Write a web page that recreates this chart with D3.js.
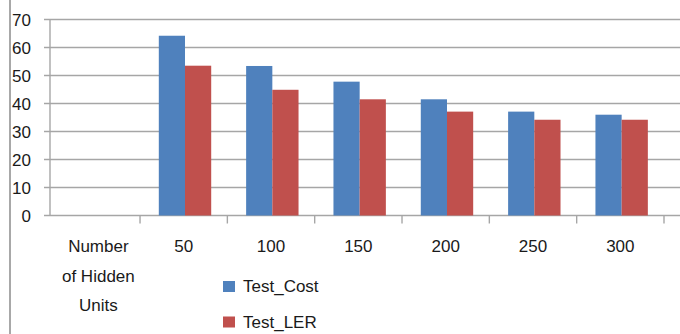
<!DOCTYPE html>
<html><head><meta charset="utf-8">
<script src="https://cdn.jsdelivr.net/npm/d3@7"></script>
<style>
html,body{margin:0;padding:0;background:#fff;}
svg{display:block;}
text{font-family:"Liberation Sans",Arial,sans-serif;fill:#1a1a1a;}
</style></head>
<body>
<svg id="c" width="680" height="334"></svg>
<script>
const categories = ["Number of Hidden Units", "50", "100", "150", "200", "250", "300"];
const seriesNames = ["Test_Cost", "Test_LER"];
const testCost = [null, 64.2, 53.4, 47.8, 41.5, 37.1, 36.0];
const testLER  = [null, 53.5, 44.9, 41.5, 37.1, 34.2, 34.2];
const yTicks = [0, 10, 20, 30, 40, 50, 60, 70];
const colors = ["#4F81BD", "#C0504D"];

const svg = d3.select("#c");
const W = 680, H = 334;

// left border line
svg.append("line").attr("x1",10).attr("x2",10).attr("y1",0).attr("y2",H)
  .attr("stroke","#a8a8a8").attr("stroke-width",2);

const axisX = 50;
const x = d3.scaleBand().domain(categories).range([52.7, 664]);
const y = d3.scaleLinear().domain([0,70]).range([215.5, 19.5]);
const x1 = d3.scaleBand().domain(seriesNames).range([x.bandwidth()*0.215, x.bandwidth()*0.815]);

// gridlines
svg.append("g").selectAll("line").data(yTicks).join("line")
  .attr("x1", axisX-6).attr("x2", W)
  .attr("y1", d=>y(d)).attr("y2", d=>y(d))
  .attr("stroke","#a6a6a6").attr("stroke-width",1.4);

// y axis line
svg.append("line").attr("x1",axisX).attr("x2",axisX).attr("y1",y(70)).attr("y2",y(0))
  .attr("stroke","#a6a6a6").attr("stroke-width",1.4);

// y labels
svg.append("g").selectAll("text").data(yTicks).join("text")
  .attr("x", 31).attr("y", d=>y(d)).attr("dy","0.36em")
  .attr("text-anchor","end").attr("font-size",17).text(d=>d);

// x ticks
const tickPos = categories.slice(1).map(c=>x(c));
tickPos.push(x(categories[categories.length-1]) + x.bandwidth());
svg.append("g").selectAll("line").data(tickPos).join("line")
  .attr("x1",d=>d).attr("x2",d=>d).attr("y1",y(0)).attr("y2",y(0)+8)
  .attr("stroke","#a6a6a6").attr("stroke-width",1.4);

// bars
const data = [testCost, testLER];
data.forEach((vals, si)=>{
  svg.append("g").selectAll("rect")
    .data(categories.map((c,i)=>({c, v: vals[i]})).filter(d=>d.v!=null))
    .join("rect")
    .attr("x", d=>x(d.c)+x1(seriesNames[si]))
    .attr("width", x1.bandwidth())
    .attr("y", d=>y(d.v))
    .attr("height", d=>y(0)-y(d.v))
    .attr("fill", colors[si]);
});

// x labels
const lineY = [252, 281.5, 311];
categories.forEach((c,i)=>{
  const lines = i===0 ? ["Number","of Hidden","Units"] : [c];
  const cx = x(c) + x.bandwidth()/2 + (i===0 ? 2 : 0);
  lines.forEach((t,j)=>{
    svg.append("text").attr("x",cx).attr("y",lineY[j])
      .attr("text-anchor","middle").attr("font-size",17).text(t);
  });
});

// legend
const legY = [286.5, 322];
seriesNames.forEach((s,i)=>{
  svg.append("rect").attr("x",223).attr("y",legY[i]-5.5).attr("width",12).attr("height",11)
    .attr("fill",colors[i]);
  svg.append("text").attr("x",243).attr("y",legY[i]+5.5).attr("font-size",17).text(s);
});
</script>
</body></html>
